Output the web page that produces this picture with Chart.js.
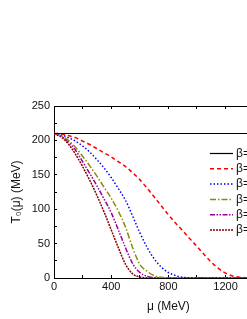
<!DOCTYPE html>
<html lang="en">
<head>
    <meta charset="UTF-8">
    <title>T0(mu) vs mu</title>
    <script src="https://cdn.jsdelivr.net/npm/chart.js"></script>
    <style>
        html, body { margin: 0; padding: 0; background: #fff; overflow: hidden; }
        canvas { display: block; }
    </style>
</head>
<body>
    <canvas id="t0Chart" width="300" height="319"></canvas>

    <script>
        // chemical potential grid (MeV)
        const mu = [0, 50, 100, 150, 200, 250, 300, 350, 400, 450, 500, 550, 600, 650, 700, 750,
                    800, 850, 900, 950, 1000, 1050, 1100, 1150, 1200, 1250, 1300, 1350, 1400, 1450, 1500, 1550, 1600];

        // T0(mu) in MeV
        const tFlat   = mu.map(() => 210);
        const tRed    = [210, 209.5, 207, 204, 199, 194, 188, 182, 176, 169, 162, 153, 143, 131, 118, 105,
                         92, 80, 69, 57, 46, 34, 23, 14, 7, 3, 1, 0.3, 0, 0, 0, 0, 0];
        const tBlue   = [210, 208.5, 204, 199, 192, 183, 172, 160, 146, 130, 113, 90, 66, 45, 28, 16,
                         8, 3.5, 1, 0.3, 0, 0, 0, 0, 0, 0, 0, 0, 0, 0, 0, 0, 0];
        const tOlive  = [210, 207, 200, 190, 177, 163, 148, 132, 116, 97, 74, 44, 20, 10, 3.5, 1,
                         0.2, 0, 0, 0, 0, 0, 0, 0, 0, 0, 0, 0, 0, 0, 0, 0, 0];
        const tPurple = [210, 206, 198, 186, 169, 152, 134, 115, 95, 70, 44, 21, 8, 2.5, 0.5, 0,
                         0, 0, 0, 0, 0, 0, 0, 0, 0, 0, 0, 0, 0, 0, 0, 0, 0];
        const tBrown  = [210, 205, 195, 180, 162, 142, 120, 96, 70, 44, 20, 6, 1.5, 0.3, 0, 0,
                         0, 0, 0, 0, 0, 0, 0, 0, 0, 0, 0, 0, 0, 0, 0, 0, 0];

        const betaLabels = ['\u03b2=0', '\u03b2=0.5', '\u03b2=1.0', '\u03b2=1.5', '\u03b2=2.0', '\u03b2=2.5'];
        const xTickLabels = [0, 400, 800, 1200, 1600];
        const yTickLabels = [0, 50, 100, 150, 200, 250];

        const fontFamily = '"Liberation Sans", Arial, sans-serif';
        const toPoints = arr => arr.map((v, i) => ({ x: mu[i], y: v }));

        function line(label, values, color, dash, width) {
            return {
                label: label,
                data: toPoints(values),
                borderColor: color,
                backgroundColor: color,
                borderWidth: width,
                borderDash: dash,
                pointRadius: 0,
                cubicInterpolationMode: 'monotone',
                fill: false
            };
        }

        // legend drawn inside the plot, at the upper right
        const insideLegend = {
            id: 'insideLegend',
            afterDatasetsDraw(chart) {
                const ctx = chart.ctx;
                ctx.save();
                ctx.font = '12px ' + fontFamily;
                ctx.textBaseline = 'middle';
                chart.data.datasets.forEach((ds, i) => {
                    const y = 153.5 + i * 15.3;
                    ctx.strokeStyle = ds.borderColor;
                    ctx.lineWidth = ds.borderWidth;
                    ctx.setLineDash(ds.borderDash);
                    ctx.beginPath();
                    ctx.moveTo(210, y);
                    ctx.lineTo(233, y);
                    ctx.stroke();
                    ctx.setLineDash([]);
                    ctx.fillStyle = '#111';
                    ctx.fillText(ds.label, 236, y);
                });
                ctx.restore();
            }
        };

        const axisGrid = { display: true, drawOnChartArea: false, drawTicks: true, tickLength: -3, tickColor: '#000', tickWidth: 1 };
        const axisBorder = { display: true, color: '#000', width: 1 };

        new Chart(document.getElementById('t0Chart'), {
            type: 'line',
            data: {
                datasets: [
                    line(betaLabels[0], tFlat, '#000000', [], 1.2),
                    line(betaLabels[1], tRed, '#ff0000', [4, 3], 1.5),
                    line(betaLabels[2], tBlue, '#0000ff', [1.5, 2], 1.5),
                    line(betaLabels[3], tOlive, '#8c8c00', [6, 2, 1.5, 2], 1.5),
                    line(betaLabels[4], tPurple, '#990099', [5, 1.5, 1.5, 1.5, 1.5, 1.5], 1.5),
                    line(betaLabels[5], tBrown, '#8b0000', [2, 1], 1.5)
                ]
            },
            options: {
                responsive: false,
                animation: false,
                events: [],
                layout: { padding: { left: 0, top: 106, right: 11, bottom: 0 } },
                plugins: { legend: { display: false }, tooltip: { enabled: false } },
                scales: {
                    x: {
                        type: 'linear', position: 'bottom', min: 0, max: 1600,
                        grid: axisGrid, border: axisBorder,
                        ticks: {
                            stepSize: 200, padding: 5, color: '#111', maxRotation: 0,
                            font: { family: fontFamily, size: 11 },
                            callback: v => xTickLabels.includes(v) ? String(v) : ''
                        },
                        title: {
                            display: true, text: '\u03bc (MeV)', color: '#111',
                            font: { family: fontFamily, size: 12 },
                            padding: { top: 0, bottom: 5 }
                        },
                        afterFit: s => { s.height = 41; }
                    },
                    x2: {
                        type: 'linear', position: 'top', min: 0, max: 1600,
                        grid: axisGrid, border: axisBorder,
                        ticks: { stepSize: 200, display: false },
                        afterFit: s => { s.height = 0; }
                    },
                    y: {
                        type: 'linear', position: 'left', min: 0, max: 250,
                        grid: axisGrid, border: axisBorder,
                        ticks: {
                            stepSize: 25, padding: 7, color: '#111',
                            font: { family: fontFamily, size: 11 },
                            callback: v => yTickLabels.includes(v) ? String(v) : ''
                        },
                        title: {
                            display: true, text: 'T\u2080(\u03bc) (MeV)', color: '#111',
                            font: { family: fontFamily, size: 12 },
                            padding: { top: 9, bottom: 0 }
                        },
                        afterFit: s => { s.width = 54; }
                    },
                    y2: {
                        type: 'linear', position: 'right', min: 0, max: 250,
                        grid: axisGrid, border: axisBorder,
                        ticks: { stepSize: 25, display: false },
                        afterFit: s => { s.width = 0; }
                    }
                }
            },
            plugins: [insideLegend]
        });
    </script>
</body>
</html>
